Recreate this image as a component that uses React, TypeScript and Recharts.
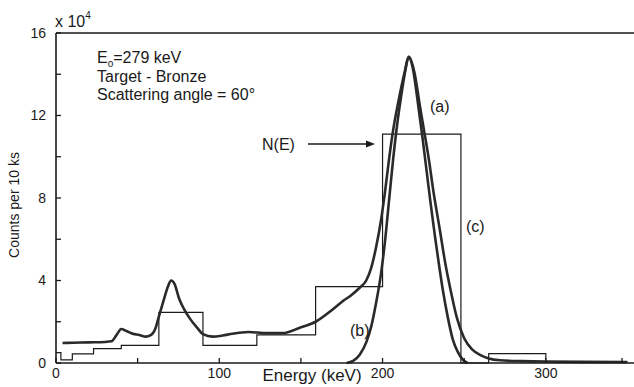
import { ComposedChart, Line, XAxis, YAxis, ReferenceLine } from "recharts";

// curve (a): measured spectrum, counts in units of 1e4
const aEnergy = [4, 10, 20, 30, 34, 37, 40, 43, 47, 51, 55, 58, 61, 63, 66, 68.5, 70.5, 72.5, 75.5, 78.5, 81.6, 86.5, 90, 96, 102, 108, 118, 129, 139, 149, 159, 169, 175, 181, 186, 190, 193, 196, 199, 201.5, 204, 206.5, 209.5, 213.5, 216, 219.5, 223, 226, 228.5, 231, 235, 238.5, 241.5, 245.5, 250, 255, 260, 265, 272, 285, 300, 350];
const aCounts = [0.97, 0.98, 1.0, 1.02, 1.05, 1.35, 1.65, 1.55, 1.42, 1.36, 1.28, 1.35, 1.7, 2.25, 3.06, 3.7, 4.0, 3.85, 3.1, 2.6, 2.2, 1.7, 1.4, 1.28, 1.33, 1.42, 1.5, 1.45, 1.45, 1.7, 2.0, 2.57, 2.96, 3.3, 3.65, 4.0, 4.6, 5.6, 6.9, 8.3, 9.9, 11.3, 12.6, 14.1, 14.85, 14.1, 12.4, 11.0, 9.8, 8.4, 6.5, 4.8, 3.6, 2.2, 1.2, 0.65, 0.38, 0.22, 0.13, 0.09, 0.07, 0.05];

// curve (b)
const bEnergy = [178, 182, 186, 190, 193, 196, 199, 201.5, 204, 206.5, 209, 211.5, 214, 216, 218.5, 221.5, 224.5, 227, 229.5, 232, 234.5, 237, 240, 243, 246, 249, 252];
const bCounts = [0, 0.1, 0.4, 1.0, 1.75, 2.9, 4.3, 5.9, 7.9, 9.9, 11.6, 13.0, 14.2, 14.85, 14.3, 12.7, 10.9, 9.3, 7.7, 6.2, 4.8, 3.5, 2.2, 1.15, 0.55, 0.18, 0];

// histogram (c) N(E): left bin edges and bin heights
const binEdges = [0, 3, 10, 23, 40, 63, 90, 123, 159, 200, 248, 265, 300];
const binCounts = [0.5, 0.15, 0.44, 0.7, 0.85, 2.45, 0.85, 1.36, 3.7, 11.1, 0, 0.45, 0];

const xTicks = [0, 50, 100, 150, 200, 250, 300, 350];
const yTicks = [0, 2, 4, 6, 8, 10, 12, 14, 16];

const curveA = aEnergy.map((e, i) => ({ e, v: aCounts[i] }));
const curveB = bEnergy.map((e, i) => ({ e, v: bCounts[i] }));
const hist = binEdges.map((e, i) => ({ e, v: binCounts[i] }));

const font = "'Liberation Sans', Arial, sans-serif";
const ink = "#1a1a1a";

const XTick = (props: any) => {
  const { x, y, payload } = props;
  const major = payload.value % 100 === 0;
  return (
    <g>
      <line x1={x} x2={x} y1={y} y2={y - 5} stroke={ink} strokeWidth={1.3} />
      {major && (
        <text x={x} y={y + 15} textAnchor="middle" fontSize={14} fill={ink} fontFamily={font}>
          {payload.value}
        </text>
      )}
    </g>
  );
};

const YTick = (props: any) => {
  const { x, y, payload } = props;
  const major = payload.value % 4 === 0;
  return (
    <g>
      <line x1={x} x2={x + 5} y1={y} y2={y} stroke={ink} strokeWidth={1.3} />
      {major && (
        <text x={x - 10} y={y} dy="0.35em" textAnchor="end" fontSize={14} fill={ink} fontFamily={font}>
          {payload.value}
        </text>
      )}
    </g>
  );
};

export default function App() {
  return (
    <div style={{ position: "absolute", left: 0, top: 0, width: 634, height: 387, background: "#fff" }}>
      <ComposedChart width={634} height={387} margin={{ top: 33, right: 0, bottom: 0, left: 0 }}>
        <XAxis
          dataKey="e"
          type="number"
          domain={[0, 354]}
          ticks={xTicks}
          allowDataOverflow
          height={24}
          tickSize={0}
          tickMargin={0}
          tickLine={false}
          tick={<XTick />}
          axisLine={{ stroke: ink, strokeWidth: 1.6 }}
        />
        <YAxis
          type="number"
          domain={[0, 16]}
          ticks={yTicks}
          width={56}
          tickSize={0}
          tickMargin={0}
          tickLine={false}
          tick={<YTick />}
          axisLine={{ stroke: ink, strokeWidth: 1.6 }}
        />
        <ReferenceLine y={16} stroke={ink} strokeWidth={1.6} />
        <Line
          data={hist}
          dataKey="v"
          type="stepAfter"
          stroke={ink}
          strokeWidth={1.2}
          dot={false}
          isAnimationActive={false}
        />
        <Line
          data={curveB}
          dataKey="v"
          type="monotone"
          stroke="#2a2a2a"
          strokeWidth={2.6}
          dot={false}
          isAnimationActive={false}
        />
        <Line
          data={curveA}
          dataKey="v"
          type="monotone"
          stroke="#2a2a2a"
          strokeWidth={2.6}
          dot={false}
          isAnimationActive={false}
        />
      </ComposedChart>
      <svg
        width={634}
        height={387}
        style={{ position: "absolute", left: 0, top: 0, pointerEvents: "none" }}
        fontFamily={font}
        fill={ink}
      >
        <text x={55} y={27} fontSize={16}>
          x 10<tspan fontSize={10} dy={-8}>4</tspan>
        </text>
        <text x={97} y={63} fontSize={16}>
          E<tspan fontSize={10} dy={4}>o</tspan>
          <tspan dy={-4}>=279 keV</tspan>
        </text>
        <text x={97} y={82} fontSize={16}>Target - Bronze</text>
        <text x={97} y={100} fontSize={16}>Scattering angle = 60°</text>
        <text x={262} y={150} fontSize={16}>N(E)</text>
        <line x1={308} y1={144} x2={368} y2={144} stroke={ink} strokeWidth={1.4} />
        <polygon points="375,144 366,140.5 366,147.5" fill={ink} />
        <text x={430} y={112} fontSize={16}>(a)</text>
        <text x={466} y={232} fontSize={16}>(c)</text>
        <text x={350} y={336} fontSize={16}>(b)</text>
        <text x={312} y={381} fontSize={17} textAnchor="middle">Energy (keV)</text>
        <text x={19} y={205} fontSize={14} textAnchor="middle" transform="rotate(-90 19 205)">
          Counts per 10 ks
        </text>
      </svg>
    </div>
  );
}
